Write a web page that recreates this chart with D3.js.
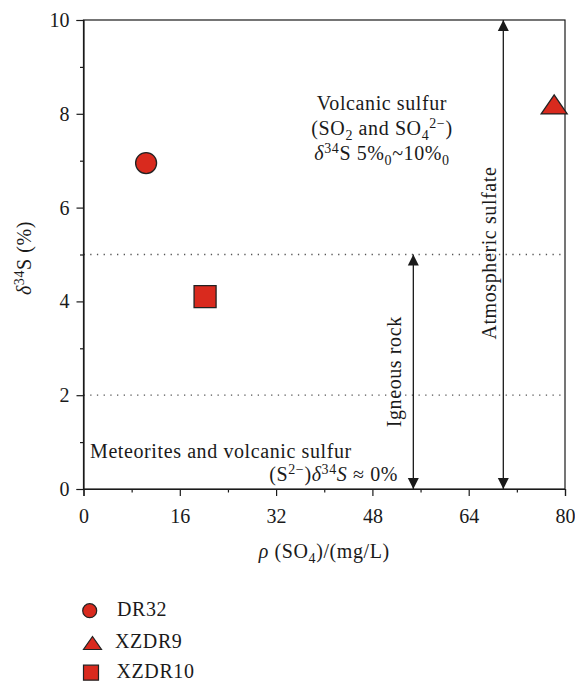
<!DOCTYPE html>
<html>
<head>
<meta charset="utf-8">
<script src="https://cdn.jsdelivr.net/npm/d3@7"></script>
<style>
  html, body { margin: 0; padding: 0; background: #fff; }
  svg text { font-family: "Liberation Serif", "DejaVu Serif", serif; fill: #1a1a1a; }
  svg text.lbl { font-size: 20px; letter-spacing: 0.6px; }
</style>
</head>
<body>
<svg id="chart" width="575" height="682"></svg>
<script>
// Samples: sulfate concentration (mg/L) vs δ34S (‰)
const samples = ["DR32", "XZDR9", "XZDR10"];
const shapes = ["circle", "triangle", "square"];
const sulfate = [10.4, 78.2, 20.2];
const delta34S = [6.95, 8.2, 4.1];

const xTicks = [0, 16, 32, 48, 64, 80];
const yTicks = [0, 2, 4, 6, 8, 10];
const xMinor = [8, 24, 40, 56, 72];
const yMinor = [1, 3, 5, 7, 9];

// Reference bands and ranges
const boundaryLines = [5, 2];
const igneousRange = { x: 54.8, from: 0, to: 5 };
const atmosphericRange = { x: 69.75, from: 0, to: 10 };

const fillRed = "#d92a1e";
const strokeDark = "#222";

const svg = d3.select("#chart");
const margin = { left: 83.5, right: 10, top: 20, bottom: 193 };
const W = 575, H = 682;

const x = d3.scaleLinear().domain([0, 80]).range([margin.left, W - margin.right]);
const y = d3.scaleLinear().domain([0, 10]).range([H - margin.bottom, margin.top]);

const defs = svg.append("defs");
defs.append("marker")
  .attr("id", "arrow")
  .attr("viewBox", "0 0 10 10")
  .attr("refX", 10).attr("refY", 5)
  .attr("markerWidth", 11).attr("markerHeight", 13)
  .attr("markerUnits", "userSpaceOnUse")
  .attr("orient", "auto-start-reverse")
  .append("path").attr("d", "M0,0 L10,5 L0,10 Z").attr("fill", "#1a1a1a");

// Dotted boundary lines
svg.append("g").selectAll("line").data(boundaryLines).join("line")
  .attr("x1", x(0)).attr("x2", x(80))
  .attr("y1", d => y(d)).attr("y2", d => y(d))
  .attr("stroke", "#555").attr("stroke-width", 1.3)
  .attr("stroke-dasharray", "1.3,5.4");

// Frame
svg.append("rect")
  .attr("x", x(0)).attr("y", y(10))
  .attr("width", x(80) - x(0)).attr("height", y(0) - y(10))
  .attr("fill", "none").attr("stroke", "#1a1a1a").attr("stroke-width", 1.2);

// Axes
svg.append("g").attr("transform", `translate(0,${y(0)})`)
  .call(d3.axisBottom(x).tickValues(xTicks).tickSize(7).tickPadding(13).tickFormat(d3.format("d")));
svg.append("g").attr("transform", `translate(0,${y(0)})`)
  .call(d3.axisBottom(x).tickValues(xMinor).tickSize(3.5).tickFormat(""))
  .call(g => g.select(".domain").remove());
svg.append("g").attr("transform", `translate(${x(0)},0)`)
  .call(d3.axisLeft(y).tickValues(yTicks).tickSize(7).tickPadding(7).tickFormat(d3.format("d")));
svg.append("g").attr("transform", `translate(${x(0)},0)`)
  .call(d3.axisLeft(y).tickValues(yMinor).tickSize(3.5).tickFormat(""))
  .call(g => g.select(".domain").remove());

svg.selectAll(".tick line, .domain").attr("stroke", "#1a1a1a").attr("stroke-width", 1.2);
svg.selectAll(".tick text")
  .style("font-family", '"Liberation Serif", serif').style("font-size", "20px").attr("fill", "#1a1a1a");

// Range arrows
function rangeArrow(r) {
  svg.append("line")
    .attr("x1", x(r.x)).attr("x2", x(r.x))
    .attr("y1", y(r.from)).attr("y2", y(r.to))
    .attr("stroke", "#1a1a1a").attr("stroke-width", 1.3)
    .attr("marker-start", "url(#arrow)").attr("marker-end", "url(#arrow)");
}
rangeArrow(igneousRange);
rangeArrow(atmosphericRange);

// Rotated range labels
svg.append("text").attr("class", "lbl")
  .attr("transform", `translate(${x(igneousRange.x) - 12.5},${y(2.5)}) rotate(-90)`)
  .attr("text-anchor", "middle")
  .text("Igneous rock");
svg.append("text").attr("class", "lbl")
  .attr("transform", `translate(${x(atmosphericRange.x) - 7.5},${y(5.03)}) rotate(-90)`)
  .attr("text-anchor", "middle")
  .text("Atmospheric sulfate");

// Volcanic sulfur annotation
const vx = 382;
const sub = "14px";
svg.append("text").attr("class", "lbl").attr("x", vx).attr("y", 110).attr("text-anchor", "middle")
  .text("Volcanic sulfur");
const t2 = svg.append("text").attr("class", "lbl").attr("x", vx).attr("y", 135).attr("text-anchor", "middle");
t2.append("tspan").text("(SO");
t2.append("tspan").attr("dy", 5).style("font-size", sub).text("2");
t2.append("tspan").attr("dy", -5).text(" and SO");
t2.append("tspan").attr("dy", 5).style("font-size", sub).text("4");
t2.append("tspan").attr("dy", -12).style("font-size", sub).text("2−");
t2.append("tspan").attr("dy", 7).text(")");
const t3 = svg.append("text").attr("class", "lbl").attr("x", vx).attr("y", 160).attr("text-anchor", "middle");
t3.append("tspan").style("font-style", "italic").text("δ");
t3.append("tspan").attr("dy", -7).style("font-size", sub).text("34");
t3.append("tspan").attr("dy", 7).text("S 5%");
t3.append("tspan").attr("dy", 5).style("font-size", sub).text("0");
t3.append("tspan").attr("dy", -5).text("~10%");
t3.append("tspan").attr("dy", 5).style("font-size", sub).text("0");

// Meteorites annotation
svg.append("text").attr("class", "lbl").attr("x", 90).attr("y", 458)
  .text("Meteorites and volcanic sulfur");
const t4 = svg.append("text").attr("class", "lbl").attr("x", 398).attr("y", 481).attr("text-anchor", "end");
t4.append("tspan").text("(S");
t4.append("tspan").attr("dy", -7).style("font-size", sub).text("2−");
t4.append("tspan").attr("dy", 7).text(")");
t4.append("tspan").style("font-style", "italic").text("δ");
t4.append("tspan").attr("dy", -7).style("font-size", sub).text("34");
t4.append("tspan").attr("dy", 7).style("font-style", "italic").text("S");
t4.append("tspan").text(" ≈ 0%");

// Axis titles
const yt = svg.append("text").attr("class", "lbl")
  .attr("transform", `translate(31,258) rotate(-90)`)
  .attr("text-anchor", "middle");
yt.append("tspan").style("font-style", "italic").text("δ");
yt.append("tspan").attr("dy", -7).style("font-size", sub).text("34");
yt.append("tspan").attr("dy", 7).text("S (%)");

const xt = svg.append("text").attr("class", "lbl").attr("x", x(40)).attr("y", 558).attr("text-anchor", "middle");
xt.append("tspan").style("font-style", "italic").text("ρ");
xt.append("tspan").text(" (SO");
xt.append("tspan").attr("dy", 5).style("font-size", sub).text("4");
xt.append("tspan").attr("dy", -5).text(")/(mg/L)");

// Marker symbols
function flatTriangle(w, h) {
  return {
    draw(ctx) {
      ctx.moveTo(0, -h / 2);
      ctx.lineTo(w / 2, h / 2);
      ctx.lineTo(-w / 2, h / 2);
      ctx.closePath();
    }
  };
}
const symbolFor = {
  circle: d3.symbol().type(d3.symbolCircle).size(Math.PI * 10.5 * 10.5),
  triangle: d3.symbol().type(flatTriangle(26, 19)),
  square: d3.symbol().type(d3.symbolSquare).size(22 * 22)
};
const legendSymbol = {
  circle: d3.symbol().type(d3.symbolCircle).size(Math.PI * 7 * 7),
  triangle: d3.symbol().type(flatTriangle(18, 13)),
  square: d3.symbol().type(d3.symbolSquare).size(15 * 15)
};

const pts = samples.map((s, i) => ({ name: s, shape: shapes[i], x: sulfate[i], y: delta34S[i] }));

svg.append("g").selectAll("path").data(pts).join("path")
  .attr("d", d => symbolFor[d.shape]())
  .attr("transform", d => `translate(${x(d.x)},${y(d.y)})`)
  .attr("fill", fillRed).attr("stroke", strokeDark).attr("stroke-width", 1.3);

// Legend
const legendRows = [
  { sx: 89.7, sy: 610.7, tx: 117, ty: 616 },
  { sx: 92.5, sy: 643, tx: 115, ty: 647.5 },
  { sx: 91, sy: 672.7, tx: 116.5, ty: 678 }
];
const lg = svg.append("g").selectAll("g").data(pts).join("g");
lg.append("path")
  .attr("d", d => legendSymbol[d.shape]())
  .attr("transform", (d, i) => `translate(${legendRows[i].sx},${legendRows[i].sy})`)
  .attr("fill", fillRed).attr("stroke", strokeDark).attr("stroke-width", 1.2);
lg.append("text").attr("class", "lbl")
  .attr("x", (d, i) => legendRows[i].tx).attr("y", (d, i) => legendRows[i].ty)
  .text(d => d.name);
</script>
</body>
</html>
